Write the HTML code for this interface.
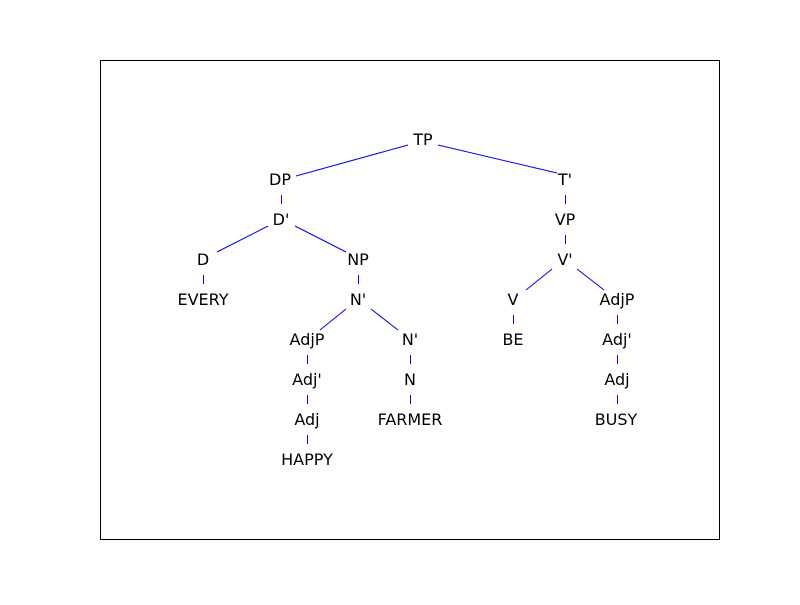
<!DOCTYPE html>
<html><head><meta charset="utf-8"><style>html,body{margin:0;padding:0;background:#fff}</style></head>
<body>
<svg width="800" height="600" xmlns="http://www.w3.org/2000/svg">
<rect x="0" y="0" width="800" height="600" fill="#fff"/>
<rect x="100.5" y="60.5" width="619" height="479" fill="none" stroke="#000" stroke-width="1"/>
<g stroke="#0000ff" stroke-width="1" fill="none">
<line x1="408" y1="145" x2="296" y2="176"/>
<line x1="438" y1="145" x2="557" y2="173"/>
<line x1="268" y1="226" x2="217" y2="252"/>
<line x1="295" y1="226" x2="346" y2="252"/>
<line x1="552" y1="269" x2="526" y2="290"/>
<line x1="577" y1="269" x2="604" y2="290"/>
<line x1="346" y1="309" x2="320" y2="330"/>
<line x1="371" y1="309" x2="398" y2="330"/>
<line x1="281.5" y1="195" x2="281.5" y2="204"/>
<line x1="565.5" y1="195" x2="565.5" y2="204"/>
<line x1="565.5" y1="235" x2="565.5" y2="244"/>
<line x1="203.5" y1="275" x2="203.5" y2="284"/>
<line x1="358.5" y1="275" x2="358.5" y2="284"/>
<line x1="617.5" y1="315" x2="617.5" y2="324"/>
<line x1="513.5" y1="315" x2="513.5" y2="324"/>
<line x1="410.5" y1="355" x2="410.5" y2="364"/>
<line x1="307.5" y1="355" x2="307.5" y2="364"/>
<line x1="617.5" y1="355" x2="617.5" y2="364"/>
<line x1="307.5" y1="395" x2="307.5" y2="404"/>
<line x1="617.5" y1="395" x2="617.5" y2="404"/>
<line x1="410.5" y1="395" x2="410.5" y2="404"/>
<line x1="307.5" y1="435" x2="307.5" y2="444"/>
</g>
<g font-family="'DejaVu Sans', 'Liberation Sans', sans-serif" font-size="16" fill="#000" text-anchor="middle">
<text x="423" y="145">TP</text>
<text x="280" y="185">DP</text>
<text x="565" y="185">T'</text>
<text x="281" y="225">D'</text>
<text x="565" y="225">VP</text>
<text x="203" y="265">D</text>
<text x="358" y="265">NP</text>
<text x="565" y="265">V'</text>
<text x="203" y="305">EVERY</text>
<text x="358" y="305">N'</text>
<text x="513" y="305">V</text>
<text x="617" y="305">AdjP</text>
<text x="307" y="345">AdjP</text>
<text x="410" y="345">N'</text>
<text x="513" y="345">BE</text>
<text x="617" y="345">Adj'</text>
<text x="307" y="385">Adj'</text>
<text x="410" y="385">N</text>
<text x="617" y="385">Adj</text>
<text x="307" y="425">Adj</text>
<text x="410" y="425">FARMER</text>
<text x="616" y="425">BUSY</text>
<text x="307" y="465">HAPPY</text>
</g>
</svg>
</body></html>
